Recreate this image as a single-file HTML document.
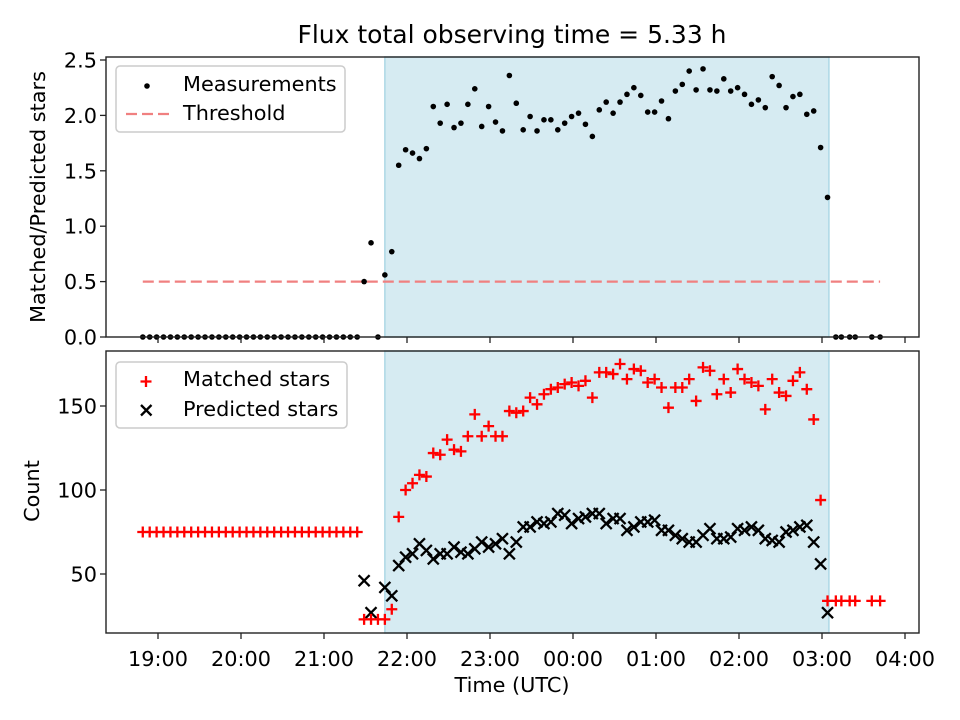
<!DOCTYPE html>
<html><head><meta charset="utf-8"><style>
html,body{margin:0;padding:0;background:#fff;width:960px;height:720px;overflow:hidden}
svg text{font-family:"DejaVu Sans","Liberation Sans",sans-serif;fill:#000}
</style></head><body>
<svg id="chart" width="960" height="720" xmlns="http://www.w3.org/2000/svg"></svg>
<script>
// minutes since 19:00
const times = [-11,-6,-1,4,9,14,19,24,29,34,39,44,49,54,59,64,69,74,79,84,89,94,99,104,109,114,119,124,129,134,139,144,
149,154,159,164,169,174,179,184,189,194,199,204,209,214,219,224,229,234,239,244,249,254,259,264,269,274,279,284,289,294,299,304,309,314,319,324,329,334,339,344,349,354,359,364,369,374,379,384,389,394,399,404,409,414,419,424,429,434,439,444,449,454,459,464,469,474,479,484,
490,494,500,504,516,522];
const ratio = [0,0,0,0,0,0,0,0,0,0,0,0,0,0,0,0,0,0,0,0,0,0,0,0,0,0,0,0,0,0,0,0,
0.50,0.85,0.0,0.56,0.77,
1.55,1.69,1.66,1.61,1.70,2.08,1.93,2.10,1.89,1.93,2.10,2.24,1.90,2.08,1.94,1.86,2.36,2.11,1.87,1.99,1.86,1.96,1.96,1.87,1.93,1.99,2.02,1.92,1.81,
2.05,2.12,2.02,2.12,2.19,2.25,2.18,2.03,2.03,2.13,1.97,2.22,2.28,2.40,2.23,2.42,2.23,2.22,2.33,2.22,2.25,2.19,2.10,2.14,2.07,2.35,2.27,2.07,2.17,2.19,2.01,2.04,1.71,1.26,
0,0,0,0,0,0];
const matched = [75,75,75,75,75,75,75,75,75,75,75,75,75,75,75,75,75,75,75,75,75,75,75,75,75,75,75,75,75,75,75,75,
23,23,23,23,29,
84,100,104,109,108,122,121,130,124,123,132,145,132,138,132,132,147,146,147,155,151,157,160,161,163,164,162,165,155,
170,170,169,175,166,172,171,164,166,161,149,161,161,166,153,173,171,157,166,158,172,166,164,162,148,166,158,156,165,170,160,142,94,34,
34,34,34,34,34,34];
const predicted = [null,null,null,null,null,null,null,null,null,null,null,null,null,null,null,null,null,null,null,null,null,null,null,null,null,null,null,null,null,null,null,null,
46,27,null,42,37,
55,60,62,68,64,59,62,62,66,63,62,65,69,66,68,71,62,69,78,78,81,80,81,86,85,80,83,84,86,
86,80,83,83,76,78,81,81,82,76,76,73,71,69,69,73,77,71,71,72,77,76,78,76,71,70,69,75,76,78,79,69,56,27,
null,null,null,null,null,null];
const xTickLabels = ["19:00","20:00","21:00","22:00","23:00","00:00","01:00","02:00","03:00","04:00"];
const xTickMinutes = [0,60,120,180,240,300,360,420,480,540];
const topTicks = [0,0.5,1.0,1.5,2.0,2.5];
const botTicks = [50,100,150];
const threshold = 0.5;
const threshStart = -11, threshEnd = 522;
const spanStart = 164, spanEnd = 485;

const NS="http://www.w3.org/2000/svg";
const svg=document.getElementById('chart');
function el(tag,attrs,parent){const e=document.createElementNS(NS,tag);for(const k in attrs)e.setAttribute(k,attrs[k]);(parent||svg).appendChild(e);return e;}
const L=106,R=919;
const FS=20.8;
const X=t=>158+t*83.0/60;
const T={top:57,bot:337}; const Yt=v=>337-v*110.8;
const B={top:351,bot:633}; const Yb=v=>658-v*1.68;

function axesFrame(box,name){
  const g=el('g',{});
  
  
  const s=el('rect',{x:X(spanStart),y:box.top,width:X(spanEnd)-X(spanStart),height:box.bot-box.top,fill:'#add8e6','fill-opacity':0.5,stroke:'#add8e6','stroke-width':1.5},g);
  
  
  return g;
}
function frameBorder(box,g){
  el('rect',{x:L,y:box.top,width:R-L,height:box.bot-box.top,fill:'none',stroke:'#222','stroke-width':1.4},g);
  xTickMinutes.forEach((m,i)=>{el('line',{x1:X(m),x2:X(m),y1:box.bot,y2:box.bot+6,stroke:'#222','stroke-width':1.3},g);});
}
// TOP
const gt=axesFrame(T,'ratio-axes');
const th=el('line',{x1:X(threshStart),x2:X(threshEnd),y1:Yt(threshold),y2:Yt(threshold),stroke:'#f08080','stroke-width':2.3,'stroke-dasharray':'11,5'},gt);


times.forEach((t,i)=>{const c=el('circle',{cx:X(t),cy:Yt(ratio[i]),r:2.8,fill:'#000'},gt);

});
frameBorder(T,gt);
topTicks.forEach(v=>{el('line',{x1:L-6,x2:L,y1:Yt(v),y2:Yt(v),stroke:'#222','stroke-width':1.3},gt);
const tx=el('text',{x:L-9,y:Yt(v)+7.5,'text-anchor':'end','font-size':FS},gt);tx.textContent=v.toFixed(1);

});
// BOTTOM
const gb=axesFrame(B,'count-axes');
times.forEach((t,i)=>{
  if(predicted[i]!==null){const x=X(t),y=Yb(predicted[i]);
    const p=el('path',{d:`M${x-5.5},${y-5.5}L${x+5.5},${y+5.5}M${x-5.5},${y+5.5}L${x+5.5},${y-5.5}`,stroke:'#000','stroke-width':2.3},gb);
    
    }
});
times.forEach((t,i)=>{
  if(matched[i]!==null){const x=X(t),y=Yb(matched[i]);
    const p=el('path',{d:`M${x-5.5},${y}L${x+5.5},${y}M${x},${y-5.5}L${x},${y+5.5}`,stroke:'#f00','stroke-width':2.3},gb);
    
    }
});
frameBorder(B,gb);
botTicks.forEach(v=>{el('line',{x1:L-6,x2:L,y1:Yb(v),y2:Yb(v),stroke:'#222','stroke-width':1.3},gb);
const tx=el('text',{x:L-9,y:Yb(v)+7.5,'text-anchor':'end','font-size':FS},gb);tx.textContent=String(v);

});
xTickMinutes.forEach((m,i)=>{const tx=el('text',{x:X(m),y:666,'text-anchor':'middle','font-size':FS});tx.textContent=xTickLabels[i];

});
</script>
<svg width="960" height="720" style="position:absolute;left:0;top:0" xmlns="http://www.w3.org/2000/svg">
<text x="512" y="43" text-anchor="middle" font-size="25">Flux total observing time = 5.33 h</text>
<text x="512" y="692" text-anchor="middle" font-size="20.8">Time (UTC)</text>
<text transform="translate(45,197) rotate(-90)" text-anchor="middle" font-size="20.8">Matched/Predicted stars</text>
<text transform="translate(39,491) rotate(-90)" text-anchor="middle" font-size="20.8">Count</text>
<g>
<rect x="116" y="66" width="229" height="66" rx="4" fill="#fff" fill-opacity="0.8" stroke="#ccc" stroke-width="1.5"/>
<circle cx="147" cy="86" r="2.8" fill="#000"/>
<text x="183" y="91" font-size="20.8">Measurements</text>
<line x1="126" x2="170" y1="114" y2="114" stroke="#f08080" stroke-width="2.3" stroke-dasharray="11,5"/>
<text x="183" y="120" font-size="20.8">Threshold</text>
</g>
<g>
<rect x="116" y="362" width="231" height="66" rx="4" fill="#fff" fill-opacity="0.8" stroke="#ccc" stroke-width="1.5"/>
<path d="M140.5,381.5h11M146,376v11" stroke="#f00" stroke-width="2.3"/>
<text x="183" y="386" font-size="20.8">Matched stars</text>
<path d="M141,405l10.5,10.5M141,415.5l10.5,-10.5" stroke="#000" stroke-width="2.3"/>
<text x="183" y="416" font-size="20.8">Predicted stars</text>
</g>
</svg>
</body></html>
